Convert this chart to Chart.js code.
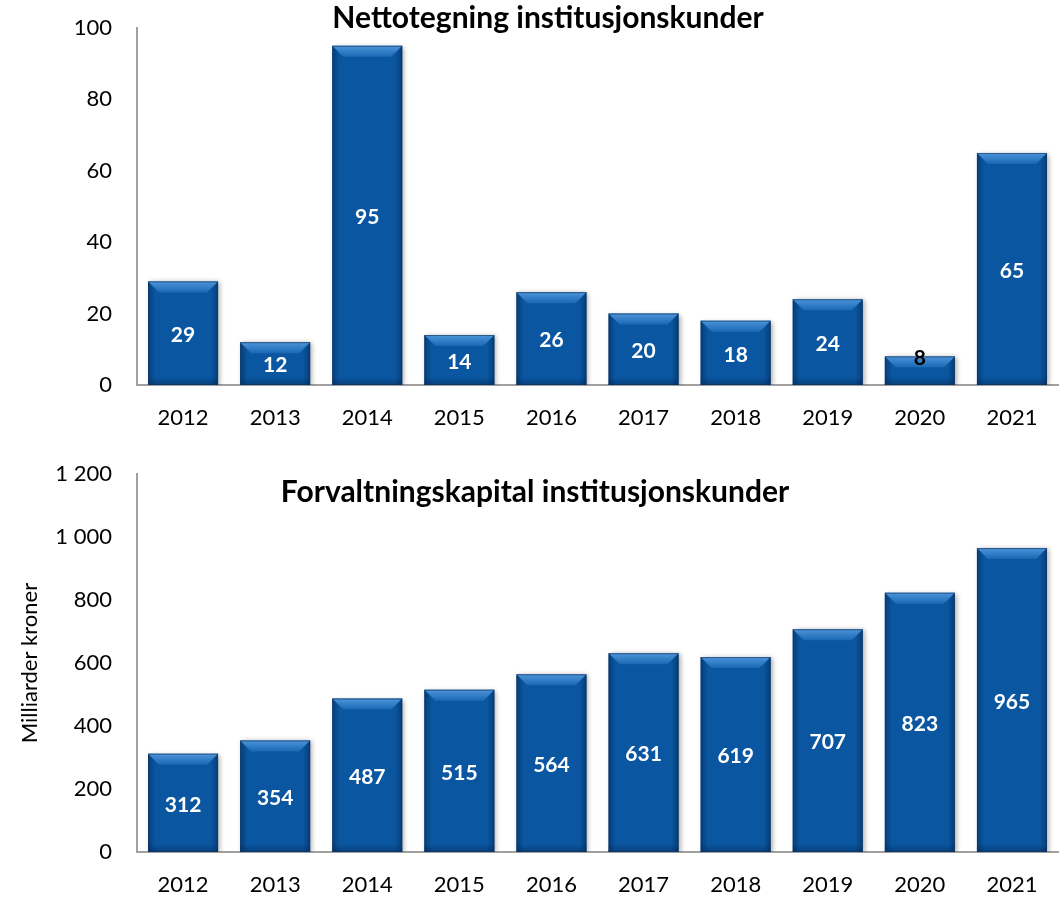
<!DOCTYPE html>
<html lang="no">
<head>
<meta charset="UTF-8">
<title>Institusjonskunder</title>
<script src="https://cdn.jsdelivr.net/npm/chart.js"></script>
<style>
  body { margin: 0; background: #fff; }
  .wrap { width: 1063px; }
  .box { position: relative; width: 1063px; }
  #top { height: 450px; }
  #bottom { height: 449px; }
</style>
</head>
<body>
<div class="wrap">
  <div class="box" id="top"><canvas id="netChart"></canvas></div>
  <div class="box" id="bottom"><canvas id="capChart"></canvas></div>
</div>
<script>
const years = ['2012', '2013', '2014', '2015', '2016', '2017', '2018', '2019', '2020', '2021'];
const netSales = [29, 12, 95, 14, 26, 20, 18, 24, 8, 65];
const capital = [312, 354, 487, 515, 564, 631, 619, 707, 823, 965];
const netTicks = ['0', '20', '40', '60', '80', '100'];
const capTicks = ['0', '200', '400', '600', '800', '1 000', '1 200'];

const FONT = 'Lato, "Open Sans", sans-serif';
const BLUE = '#0a56a0';

// soft shadow behind the bars
const shadowPlugin = {
  id: 'barShadow',
  beforeDatasetDraw(chart) {
    const c = chart.ctx;
    c.save();
    c.shadowColor = 'rgba(0,0,0,0.35)';
    c.shadowBlur = 5;
    c.shadowOffsetX = 2;
    c.shadowOffsetY = 1;
  },
  afterDatasetDraw(chart) {
    chart.ctx.restore();
  }
};

// bevel look + value labels
const bevelPlugin = {
  id: 'bevel',
  afterDatasetsDraw(chart) {
    const c = chart.ctx;
    const meta = chart.getDatasetMeta(0);
    meta.data.forEach((bar, i) => {
      const l = bar.x - bar.width / 2, r = bar.x + bar.width / 2;
      const t = bar.y, b = bar.base;
      const h = b - t;
      const bev = Math.min(11, h / 2.5);
      c.save();
      // darker sides
      const g = c.createLinearGradient(l, 0, r, 0);
      g.addColorStop(0, 'rgba(0,30,70,0.45)');
      g.addColorStop(0.1, 'rgba(0,30,70,0.0)');
      g.addColorStop(0.9, 'rgba(0,30,70,0.0)');
      g.addColorStop(1, 'rgba(0,30,70,0.45)');
      c.fillStyle = g;
      c.fillRect(l, t, r - l, h);
      // darker bottom
      const gb = c.createLinearGradient(0, b - 8, 0, b);
      gb.addColorStop(0, 'rgba(0,30,70,0)');
      gb.addColorStop(1, 'rgba(0,30,70,0.4)');
      c.fillStyle = gb;
      c.fillRect(l, b - 8, r - l, 8);
      // light top bevel
      const gt = c.createLinearGradient(0, t, 0, t + bev);
      gt.addColorStop(0, '#4d95da');
      gt.addColorStop(1, '#1a68b4');
      c.fillStyle = gt;
      c.beginPath();
      c.moveTo(l, t);
      c.lineTo(r, t);
      c.lineTo(r - bev, t + bev);
      c.lineTo(l + bev, t + bev);
      c.closePath();
      c.fill();
      c.strokeStyle = 'rgba(20,50,90,0.6)';
      c.lineWidth = 1;
      c.strokeRect(l + 0.5, t + 0.5, r - l - 1, h - 1);
      c.restore();

      // value label
      const v = chart.data.datasets[0].data[i];
      c.save();
      c.font = 'bold 21px ' + FONT;
      c.textAlign = 'center';
      c.textBaseline = 'middle';
      if (h < 32) {
        c.fillStyle = '#000';
        c.fillText(String(v), bar.x, t + 2);
      } else {
        c.fillStyle = '#fff';
        c.fillText(String(v), bar.x, (t + b) / 2 + 2);
      }
      c.restore();
    });
  }
};

// chart headings placed where the original has them
const headingPlugin = {
  id: 'heading',
  afterDraw(chart, args, opts) {
    const c = chart.ctx;
    c.save();
    c.font = 'bold 30px ' + FONT;
    c.fillStyle = '#000';
    c.textAlign = 'center';
    c.textBaseline = 'middle';
    c.fillText(opts.text, opts.x, opts.y);
    c.restore();
  }
};

function makeChart(id, values, ticks, max, step, heading, xHeight, padTop, yTitle) {
  return new Chart(document.getElementById(id), {
    type: 'bar',
    data: {
      labels: years,
      datasets: [{
        data: values,
        backgroundColor: BLUE,
        borderWidth: 0,
        barPercentage: 0.76,
        categoryPercentage: 1.0
      }]
    },
    options: {
      responsive: true,
      maintainAspectRatio: false,
      animation: false,
      layout: { padding: { top: padTop, right: 5, bottom: 0, left: 0 } },
      plugins: {
        legend: { display: false },
        tooltip: { enabled: false },
        heading: heading
      },
      scales: {
        x: {
          grid: { display: false, drawTicks: false },
          border: { display: true, color: '#a0a0a0', width: 2 },
          ticks: { color: '#000', font: { family: FONT, size: 22 }, padding: 20 },
          afterFit(s) { s.height = xHeight; }
        },
        y: {
          min: 0,
          max: max,
          grid: { display: false, drawTicks: false },
          border: { display: true, color: '#a0a0a0', width: 2 },
          ticks: {
            stepSize: step,
            color: '#000',
            padding: 25,
            font: { family: FONT, size: 22 },
            callback: (val, idx) => ticks[idx]
          },
          title: yTitle ? {
            display: true,
            text: yTitle,
            color: '#000',
            font: { family: FONT, size: 22 },
            padding: { top: 17, bottom: 0 }
          } : { display: false },
          afterFit(s) {
            s.width = 137;
            // tick padding would otherwise push the plot top down
            s.paddingTop = 0;
            s.paddingBottom = 0;
          }
        }
      }
    },
    plugins: [shadowPlugin, bevelPlugin, headingPlugin]
  });
}

makeChart('netChart', netSales, netTicks, 100, 20,
  { text: 'Nettotegning institusjonskunder', x: 548, y: 18 }, 65, 28, null);
makeChart('capChart', capital, capTicks, 1200, 200,
  { text: 'Forvaltningskapital institusjonskunder', x: 535, y: 42 }, 47, 24, 'Milliarder kroner');
</script>
</body>
</html>
